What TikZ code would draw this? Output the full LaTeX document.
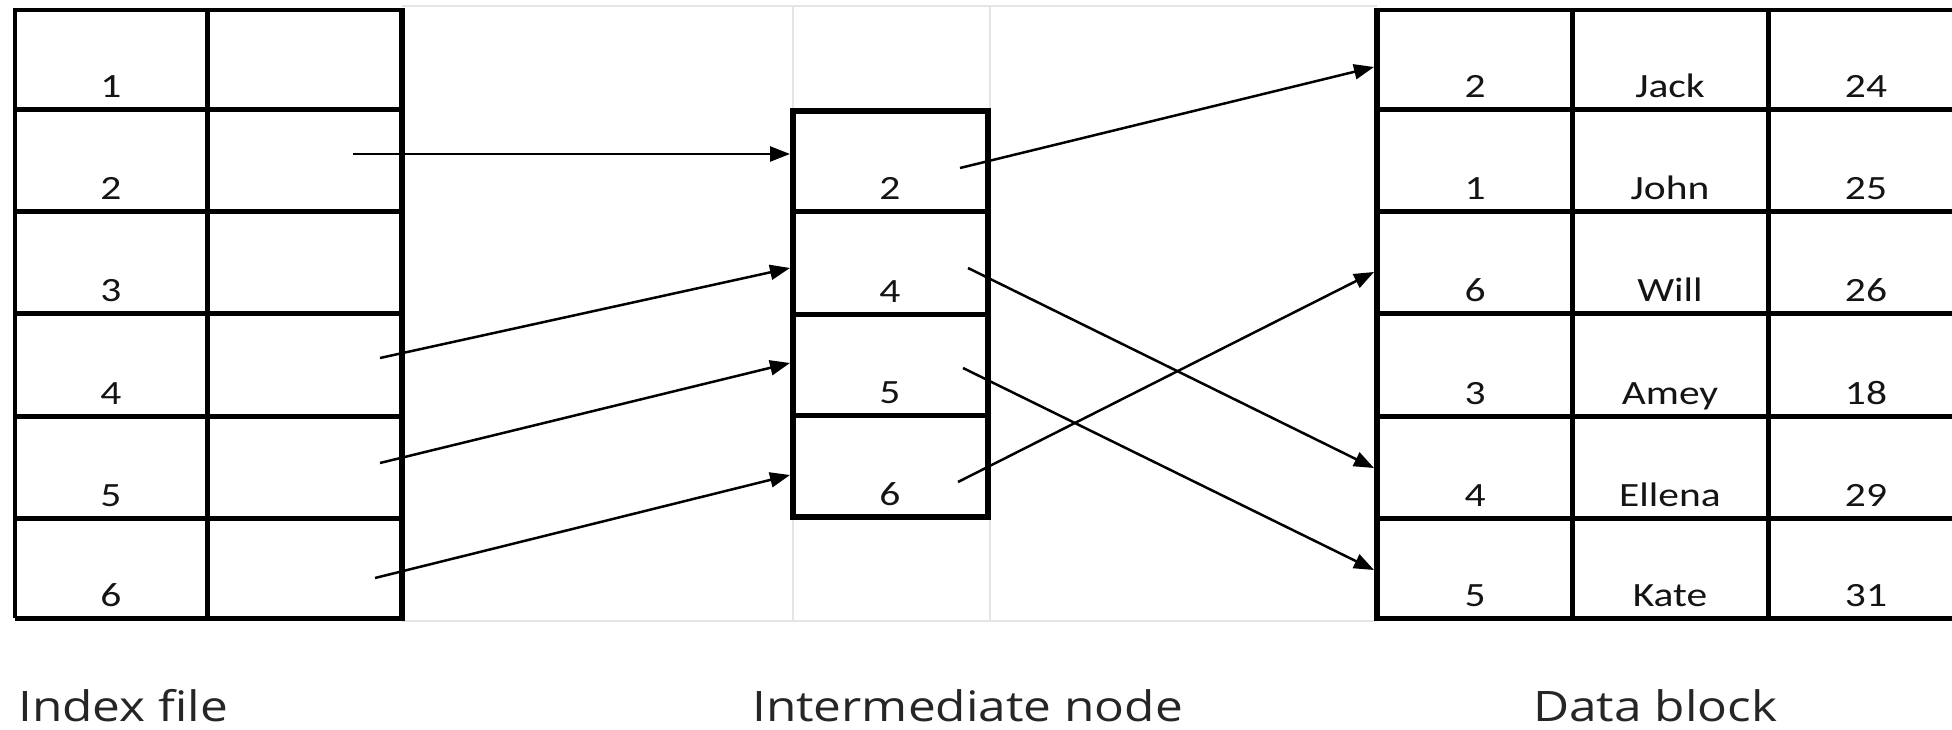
\documentclass[tikz,border=0pt]{standalone}
\usepackage{fontspec}
\usetikzlibrary{arrows.meta}
\newfontfamily\cellfont[FakeStretch=1.22]{Carlito}
\newfontfamily\labelfont[FakeStretch=1.18]{Open Sans}

\begin{document}
\begin{tikzpicture}[x=1pt,y=-1pt,
  rule/.style={line width=5pt, black},
  edge/.style={line width=3.2pt, black},
  faint/.style={line width=1.6pt, black!10},
  link/.style={line width=2.5pt, black, -{Triangle[length=20pt,width=15pt]}},
  celltext/.style={anchor=base, inner sep=0pt, text=black!92,
                   font=\cellfont\fontsize{34}{34}\selectfont},
  caption/.style={anchor=base west, inner sep=0pt, text=black!85,
                  font=\labelfont\fontsize{42}{42}\selectfont}]
\useasboundingbox (0,0) rectangle (1952,730);
\fill[white] (0,0) rectangle (1952,730);

% light spreadsheet grid behind the middle part
\draw[faint] (402,6) -- (1377,6);
\draw[faint] (402,621) -- (1377,621);
\draw[faint] (793,6) -- (793,621);
\draw[faint] (990,6) -- (990,621);

% ---------------- index file ----------------
\foreach \y in {110,212,313,416,518}
  \draw[rule] (15,\y) -- (402,\y);
\draw[rule] (207,10) -- (207,618);
\draw[edge] (402,10) -- (15,10) -- (15,618);
\draw[rule] (15,618) -- (402,618);
\draw[line width=6.5pt] (402,8) -- (402,621);

\foreach \k/\y in {1/98,2/200,3/301,4/404,5/506,6/606}
  \node[celltext] (idx\k) at (111,\y) {\k};

% ---------------- intermediate node ----------------
\draw[rule, line width=5.5pt] (793,111) rectangle (988,517);
\foreach \y in {212,314,415}
  \draw[rule] (793,\y) -- (988,\y);
\foreach \k/\y in {2/200,4/302,5/403,6/505}
  \node[celltext] (mid\k) at (890,\y) {\k};

% ---------------- data block ----------------
\draw[edge] (1377,10) -- (1952,10);
\foreach \y in {110,212,313,416,518,618}
  \draw[rule] (1377,\y) -- (1952,\y);
\draw[line width=5.5pt] (1377,8) -- (1377,620.5);
\draw[rule] (1572,10) -- (1572,618);
\draw[rule] (1768,10) -- (1768,618);

\foreach \r/\k/\n/\a/\y in {1/2/Jack/24/98, 2/1/John/25/200, 3/6/Will/26/301,
                             4/3/Amey/18/404, 5/4/Ellena/29/506, 6/5/Kate/31/606}{
  \node[celltext] (key\r)  at (1475,\y) {\k};
  \node[celltext] (name\r) at (1670,\y) {\n};
  \node[celltext] (age\r)  at (1866,\y) {\a};
}

% ---------------- pointer ends ----------------
\coordinate (p2) at (353,154);
\coordinate (p4) at (380,358);
\coordinate (p5) at (380,463);
\coordinate (p6) at (375,578);
\coordinate (in2) at (790,154);
\coordinate (in4) at (790,268);
\coordinate (in5) at (790,363);
\coordinate (in6) at (790,475);

\coordinate (q2) at (960,168);
\coordinate (q4) at (968,268);
\coordinate (q5) at (963,368);
\coordinate (q6) at (958,482);
\coordinate (row1) at (1374,67);
\coordinate (row3) at (1374,272);
\coordinate (row5) at (1374,468);
\coordinate (row6) at (1374,570);

% index file -> intermediate node
\draw[link] (p2) -- (in2);
\draw[link] (p4) -- (in4);
\draw[link] (p5) -- (in5);
\draw[link] (p6) -- (in6);

% intermediate node -> data block
\draw[link] (q2) -- (row1);
\draw[link] (q4) -- (row5);
\draw[link] (q5) -- (row6);
\draw[link] (q6) -- (row3);

% ---------------- captions ----------------
\node[caption] (capidx)  at (18,721)   {Index file};
\node[caption] (capmid)  at (752,721)  {Intermediate node};
\node[caption] (capdata) at (1533,721) {Data block};
\end{tikzpicture}
\end{document}
